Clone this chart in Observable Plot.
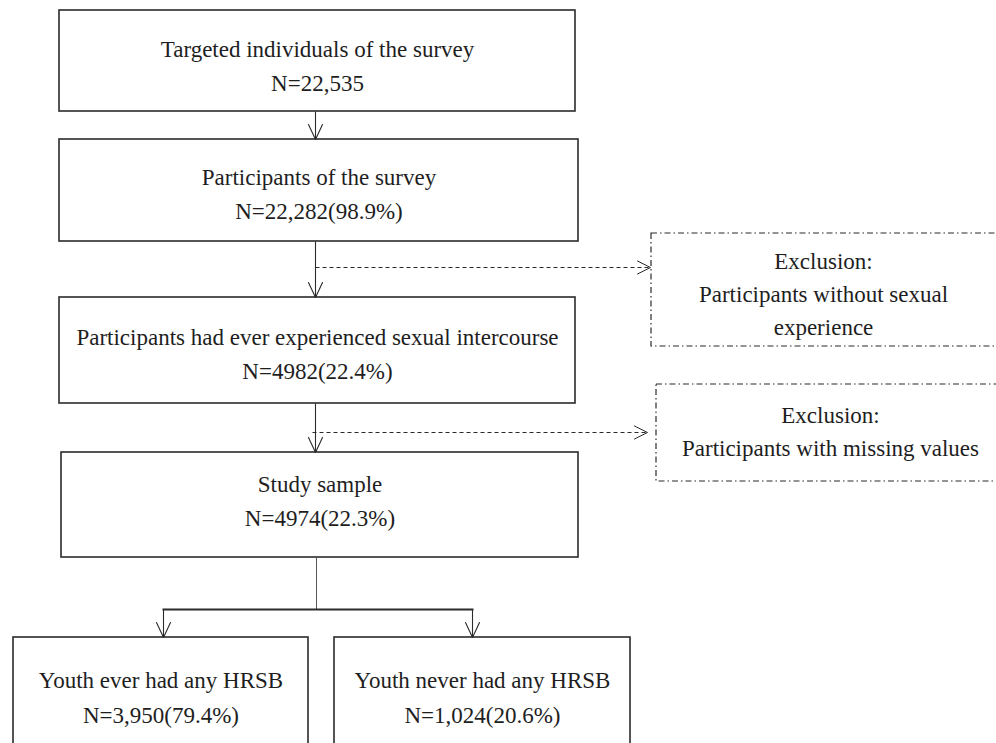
<!DOCTYPE html>
<html>
<head>
<meta charset="utf-8">
<script src="https://cdn.jsdelivr.net/npm/d3@7"></script>
<script src="https://cdn.jsdelivr.net/npm/@observablehq/plot@0.6"></script>
<style>
  html, body { margin: 0; padding: 0; background: #fff; }
  #chart svg { display: block; }
</style>
</head>
<body>
<div id="chart"></div>
<script>
// ---- Content ----
const stageLabels = [
  "Targeted individuals of the survey",
  "Participants of the survey",
  "Participants had ever experienced sexual intercourse",
  "Study sample"
];
const stageCounts = ["N=22,535", "N=22,282(98.9%)", "N=4982(22.4%)", "N=4974(22.3%)"];
const exclusionTitles = ["Exclusion:", "Exclusion:"];
const exclusionReasons = ["Participants without sexual\nexperience", "Participants with missing values"];
const groupLabels = ["Youth ever had any HRSB", "Youth never had any HRSB"];
const groupCounts = ["N=3,950(79.4%)", "N=1,024(20.6%)"];

// ---- Diagram layout (in diagram units) ----
const stageBoxes = [
  {x1: 59, x2: 575, y1: 10,  y2: 111, ty: 63},
  {x1: 59, x2: 578, y1: 139, y2: 241, ty: 191},
  {x1: 59, x2: 575, y1: 297, y2: 403, ty: 351},
  {x1: 61, x2: 578, y1: 452, y2: 557, ty: 498}
];
const exclusionBoxes = [
  {x1: 651, x2: 1000, y1: 233, y2: 346, tx: 823, ty: 291},
  {x1: 656, x2: 1010, y1: 384, y2: 481, tx: 830, ty: 428}
];
const groupBoxes = [
  {x1: 13,  x2: 308, y1: 637, y2: 760, ty: 694},
  {x1: 334, x2: 630, y1: 637, y2: 760, ty: 694}
];

const stages = stageBoxes.map((b, i) => ({...b, text: stageLabels[i] + "\n" + stageCounts[i]}));
const exclusions = exclusionBoxes.map((b, i) => ({...b, text: exclusionTitles[i] + "\n" + exclusionReasons[i]}));
const groups = groupBoxes.map((b, i) => ({...b, text: groupLabels[i] + "\n" + groupCounts[i]}));

const solidArrows = [
  {x1: 315, y1: 111, x2: 315, y2: 139},
  {x1: 315, y1: 241, x2: 315, y2: 297},
  {x1: 315, y1: 403, x2: 315, y2: 452},
  {x1: 163, y1: 609, x2: 163, y2: 637},
  {x1: 472, y1: 609, x2: 472, y2: 637}
];
const dashedArrows = [
  {x1: 315, y1: 267, x2: 650, y2: 267},
  {x1: 312, y1: 432, x2: 647, y2: 432}
];
const stem = [{x1: 316, y1: 557, x2: 316, y2: 609}];
const branch = [{x1: 162, y1: 609, x2: 473, y2: 609}];

// open "V" arrowheads derived from each arrow's end point and direction
function heads(arrows, len, half) {
  const pts = [];
  arrows.forEach((a, i) => {
    const dx = a.x2 - a.x1, dy = a.y2 - a.y1, L = Math.hypot(dx, dy);
    const ux = dx / L, uy = dy / L, px = -uy, py = ux;
    const bx = a.x2 - ux * len, by = a.y2 - uy * len;
    pts.push({id: i, x: bx + px * half, y: by + py * half});
    pts.push({id: i, x: a.x2, y: a.y2});
    pts.push({id: i, x: bx - px * half, y: by - py * half});
  });
  return pts;
}

const ink = "#2b2b2b";
const font = "Liberation Serif, Times New Roman, serif";
const fs = 23;

const chart = Plot.plot({
  width: 996,
  height: 743,
  margin: 0,
  x: {domain: [0, 996], range: [0, 996], axis: null},
  y: {domain: [0, 743], range: [0, 743], axis: null},
  style: {fontFamily: font, background: "#fff"},
  marks: [
    Plot.rect(stages, {x1: "x1", x2: "x2", y1: "y1", y2: "y2", fill: "white", stroke: ink, strokeWidth: 1.6}),
    Plot.rect(groups, {x1: "x1", x2: "x2", y1: "y1", y2: "y2", fill: "white", stroke: ink, strokeWidth: 1.6}),
    Plot.rect(exclusions, {x1: "x1", x2: "x2", y1: "y1", y2: "y2", fill: "white", stroke: ink, strokeWidth: 1.2, strokeDasharray: "6,3,1.5,3"}),
    Plot.link(solidArrows, {x1: "x1", y1: "y1", x2: "x2", y2: "y2", stroke: ink, strokeWidth: 1.1}),
    Plot.line(heads(solidArrows, 15, 7), {x: "x", y: "y", z: "id", stroke: ink, strokeWidth: 1.1, curve: "linear"}),
    Plot.link(dashedArrows, {x1: "x1", y1: "y1", x2: "x2", y2: "y2", stroke: ink, strokeWidth: 1, strokeDasharray: "4,3"}),
    Plot.line(heads(dashedArrows, 13, 6.5), {x: "x", y: "y", z: "id", stroke: ink, strokeWidth: 1, curve: "linear"}),
    Plot.link(stem, {x1: "x1", y1: "y1", x2: "x2", y2: "y2", stroke: "#555", strokeWidth: 1}),
    Plot.link(branch, {x1: "x1", y1: "y1", x2: "x2", y2: "y2", stroke: ink, strokeWidth: 2.2}),
    Plot.text(stages, {x: d => (d.x1 + d.x2) / 2, y: "ty", text: "text", fontSize: fs, lineHeight: 34 / fs, fill: "#1e1e1e", fontFamily: font}),
    Plot.text(groups, {x: d => (d.x1 + d.x2) / 2, y: "ty", text: "text", fontSize: fs, lineHeight: 35 / fs, fill: "#1e1e1e", fontFamily: font}),
    Plot.text(exclusions, {x: "tx", y: "ty", text: "text", fontSize: fs, lineHeight: 33 / fs, fill: "#1e1e1e", fontFamily: font})
  ]
});
document.getElementById("chart").appendChild(chart);
</script>
</body>
</html>
